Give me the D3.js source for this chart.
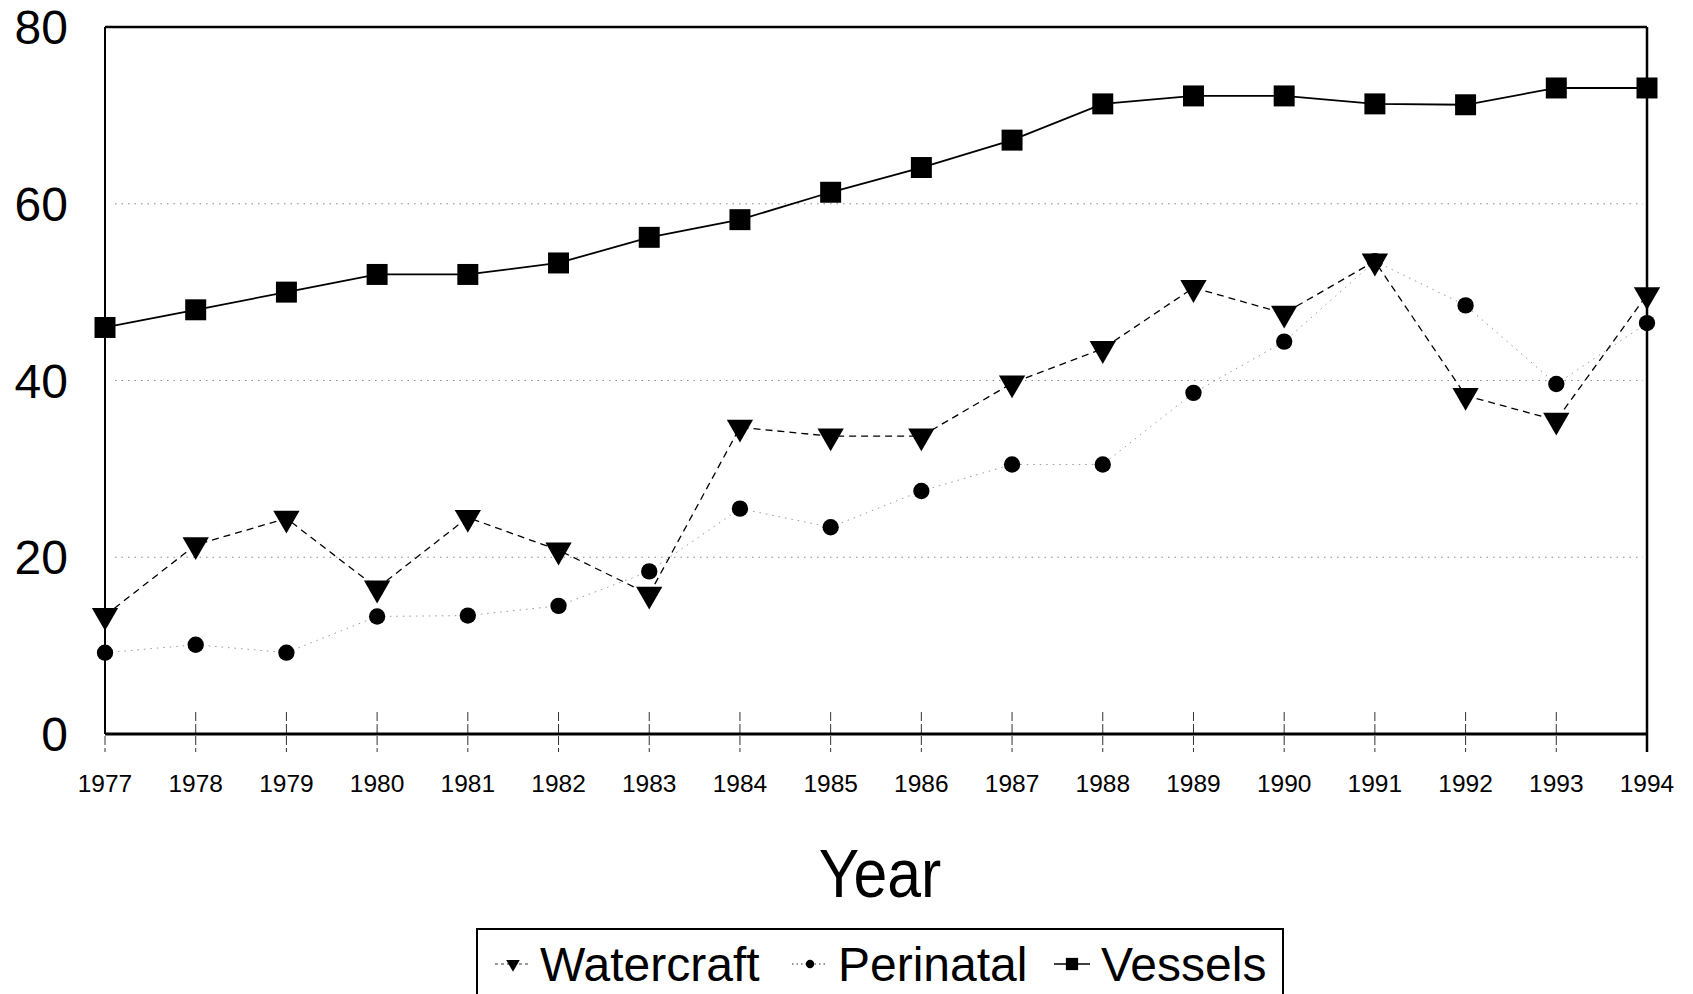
<!DOCTYPE html>
<html>
<head>
<meta charset="utf-8">
<script src="https://cdn.jsdelivr.net/npm/d3@7"></script>
<style>
  body { margin: 0; background: #fff; }
  svg { display: block; }
  text { font-family: "Liberation Sans", Arial, sans-serif; fill: #000; }
</style>
</head>
<body>
<svg id="chart" width="1693" height="994"></svg>
<script>
"use strict";

const years = [1977, 1978, 1979, 1980, 1981, 1982, 1983, 1984, 1985, 1986, 1987, 1988, 1989, 1990, 1991, 1992, 1993, 1994];
const vessels = [46, 48, 50, 52, 52, 53.3, 56.2, 58.2, 61.3, 64.1, 67.2, 71.3, 72.2, 72.2, 71.3, 71.2, 73.1, 73.1];
const watercraft = [13.4, 21.4, 24.4, 16.5, 24.5, 20.8, 15.8, 34.7, 33.7, 33.7, 39.7, 43.6, 50.5, 47.6, 53.5, 38.3, 35.5, 49.7];
const perinatal = [9.2, 10.1, 9.2, 13.3, 13.4, 14.5, 18.4, 25.5, 23.4, 27.5, 30.5, 30.5, 38.6, 44.4, 53.5, 48.5, 39.6, 46.5];
const yTicks = [0, 20, 40, 60, 80];
const gridValues = [20, 40, 60];

let svg = d3.select("#chart");

let margin = { left: 105, right: 1647, top: 27, bottom: 734 };

let x = d3.scaleLinear()
    .domain([1977, 1994])
    .range([margin.left, margin.right]);

let y = d3.scaleLinear()
    .domain([0, 80])
    .range([margin.bottom, margin.top]);

// faint dotted gridlines
svg.append("g").selectAll("line")
    .data(gridValues)
    .enter().append("line")
    .attr("x1", margin.left + 10)
    .attr("x2", margin.right - 4)
    .attr("y1", d => y(d))
    .attr("y2", d => y(d))
    .style("stroke", "#8a8a8a")
    .style("stroke-width", 1)
    .style("stroke-dasharray", "1.5,5");

// x ticks crossing the bottom axis
svg.append("g").selectAll("line")
    .data(years)
    .enter().append("line")
    .attr("x1", d => x(d))
    .attr("x2", d => x(d))
    .attr("y1", margin.bottom - 22)
    .attr("y2", margin.bottom + 18)
    .style("stroke", "#333")
    .style("stroke-width", 1)
    .style("stroke-dasharray", "9,3");

// frame
svg.append("line")
    .attr("x1", margin.left).attr("x2", margin.right)
    .attr("y1", margin.top).attr("y2", margin.top)
    .style("stroke", "#000").style("stroke-width", 2.5);
svg.append("line")
    .attr("x1", margin.right).attr("x2", margin.right)
    .attr("y1", margin.top).attr("y2", margin.bottom + 18)
    .style("stroke", "#000").style("stroke-width", 2.5);
svg.append("line")
    .attr("x1", margin.left).attr("x2", margin.left)
    .attr("y1", margin.top).attr("y2", margin.bottom)
    .style("stroke", "#000").style("stroke-width", 2);
svg.append("line")
    .attr("x1", margin.left).attr("x2", margin.right)
    .attr("y1", margin.bottom).attr("y2", margin.bottom)
    .style("stroke", "#000").style("stroke-width", 3);

// y tick labels
svg.append("g").selectAll("text")
    .data(yTicks)
    .enter().append("text")
    .attr("x", 68)
    .attr("y", d => y(d) + 17)
    .attr("text-anchor", "end")
    .style("font-size", "48px")
    .text(d => d);

// x tick labels
svg.append("g").selectAll("text")
    .data(years)
    .enter().append("text")
    .attr("x", d => x(d))
    .attr("y", 792)
    .attr("text-anchor", "middle")
    .style("font-size", "24.5px")
    .text(d => d);

// axis title, condensed like the original
svg.append("text")
    .attr("transform", "translate(880,897) scale(0.88,1)")
    .attr("text-anchor", "middle")
    .style("font-size", "69px")
    .text("Year");

let line = d3.line()
    .x((d, i) => x(years[i]))
    .y(d => y(d));

// perinatal dotted
svg.append("path")
    .datum(perinatal)
    .attr("d", line)
    .style("fill", "none")
    .style("stroke", "#999")
    .style("stroke-width", 1)
    .style("stroke-dasharray", "1.5,5");

// watercraft dashed
svg.append("path")
    .datum(watercraft)
    .attr("d", line)
    .style("fill", "none")
    .style("stroke", "#000")
    .style("stroke-width", 1.3)
    .style("stroke-dasharray", "7,5");

// vessels solid
svg.append("path")
    .datum(vessels)
    .attr("d", line)
    .style("fill", "none")
    .style("stroke", "#000")
    .style("stroke-width", 1.8);

let circleSym = d3.symbol().type(d3.symbolCircle).size(210);
let triSym = d3.symbol().type(d3.symbolTriangle).size(300);
let squareSym = d3.symbol().type(d3.symbolSquare).size(440);

svg.append("g").selectAll("path")
    .data(perinatal)
    .enter().append("path")
    .attr("d", circleSym)
    .attr("transform", (d, i) => "translate(" + x(years[i]) + "," + y(d) + ")")
    .style("fill", "#000");

svg.append("g").selectAll("path")
    .data(watercraft)
    .enter().append("path")
    .attr("d", triSym)
    .attr("transform", (d, i) => "translate(" + x(years[i]) + "," + y(d) + ") rotate(180)")
    .style("fill", "#000");

svg.append("g").selectAll("path")
    .data(vessels)
    .enter().append("path")
    .attr("d", squareSym)
    .attr("transform", (d, i) => "translate(" + x(years[i]) + "," + y(d) + ")")
    .style("fill", "#000");

// legend
let legend = svg.append("g");
legend.append("rect")
    .attr("x", 477)
    .attr("y", 929)
    .attr("width", 806)
    .attr("height", 90)
    .style("fill", "none")
    .style("stroke", "#000")
    .style("stroke-width", 2);

let legendItems = [
    { name: "Watercraft", sym: d3.symbolTriangle, size: 80, rot: 180, dash: "3,3", cx: 513, tx: 540 },
    { name: "Perinatal", sym: d3.symbolCircle, size: 55, rot: 0, dash: "1.5,3", cx: 810, tx: 838 },
    { name: "Vessels", sym: d3.symbolSquare, size: 150, rot: 0, dash: null, cx: 1072, tx: 1101 }
];

legendItems.forEach(function(item) {
    legend.append("line")
        .attr("x1", item.cx - 18)
        .attr("x2", item.cx + 18)
        .attr("y1", 964)
        .attr("y2", 964)
        .style("stroke", item.dash ? "#777" : "#000")
        .style("stroke-width", 1.3)
        .style("stroke-dasharray", item.dash);
    legend.append("path")
        .attr("d", d3.symbol().type(item.sym).size(item.size))
        .attr("transform", "translate(" + item.cx + ",964) rotate(" + item.rot + ")")
        .style("fill", "#000");
    legend.append("text")
        .attr("x", item.tx)
        .attr("y", 981)
        .style("font-size", "48px")
        .text(item.name);
});
</script>
</body>
</html>
